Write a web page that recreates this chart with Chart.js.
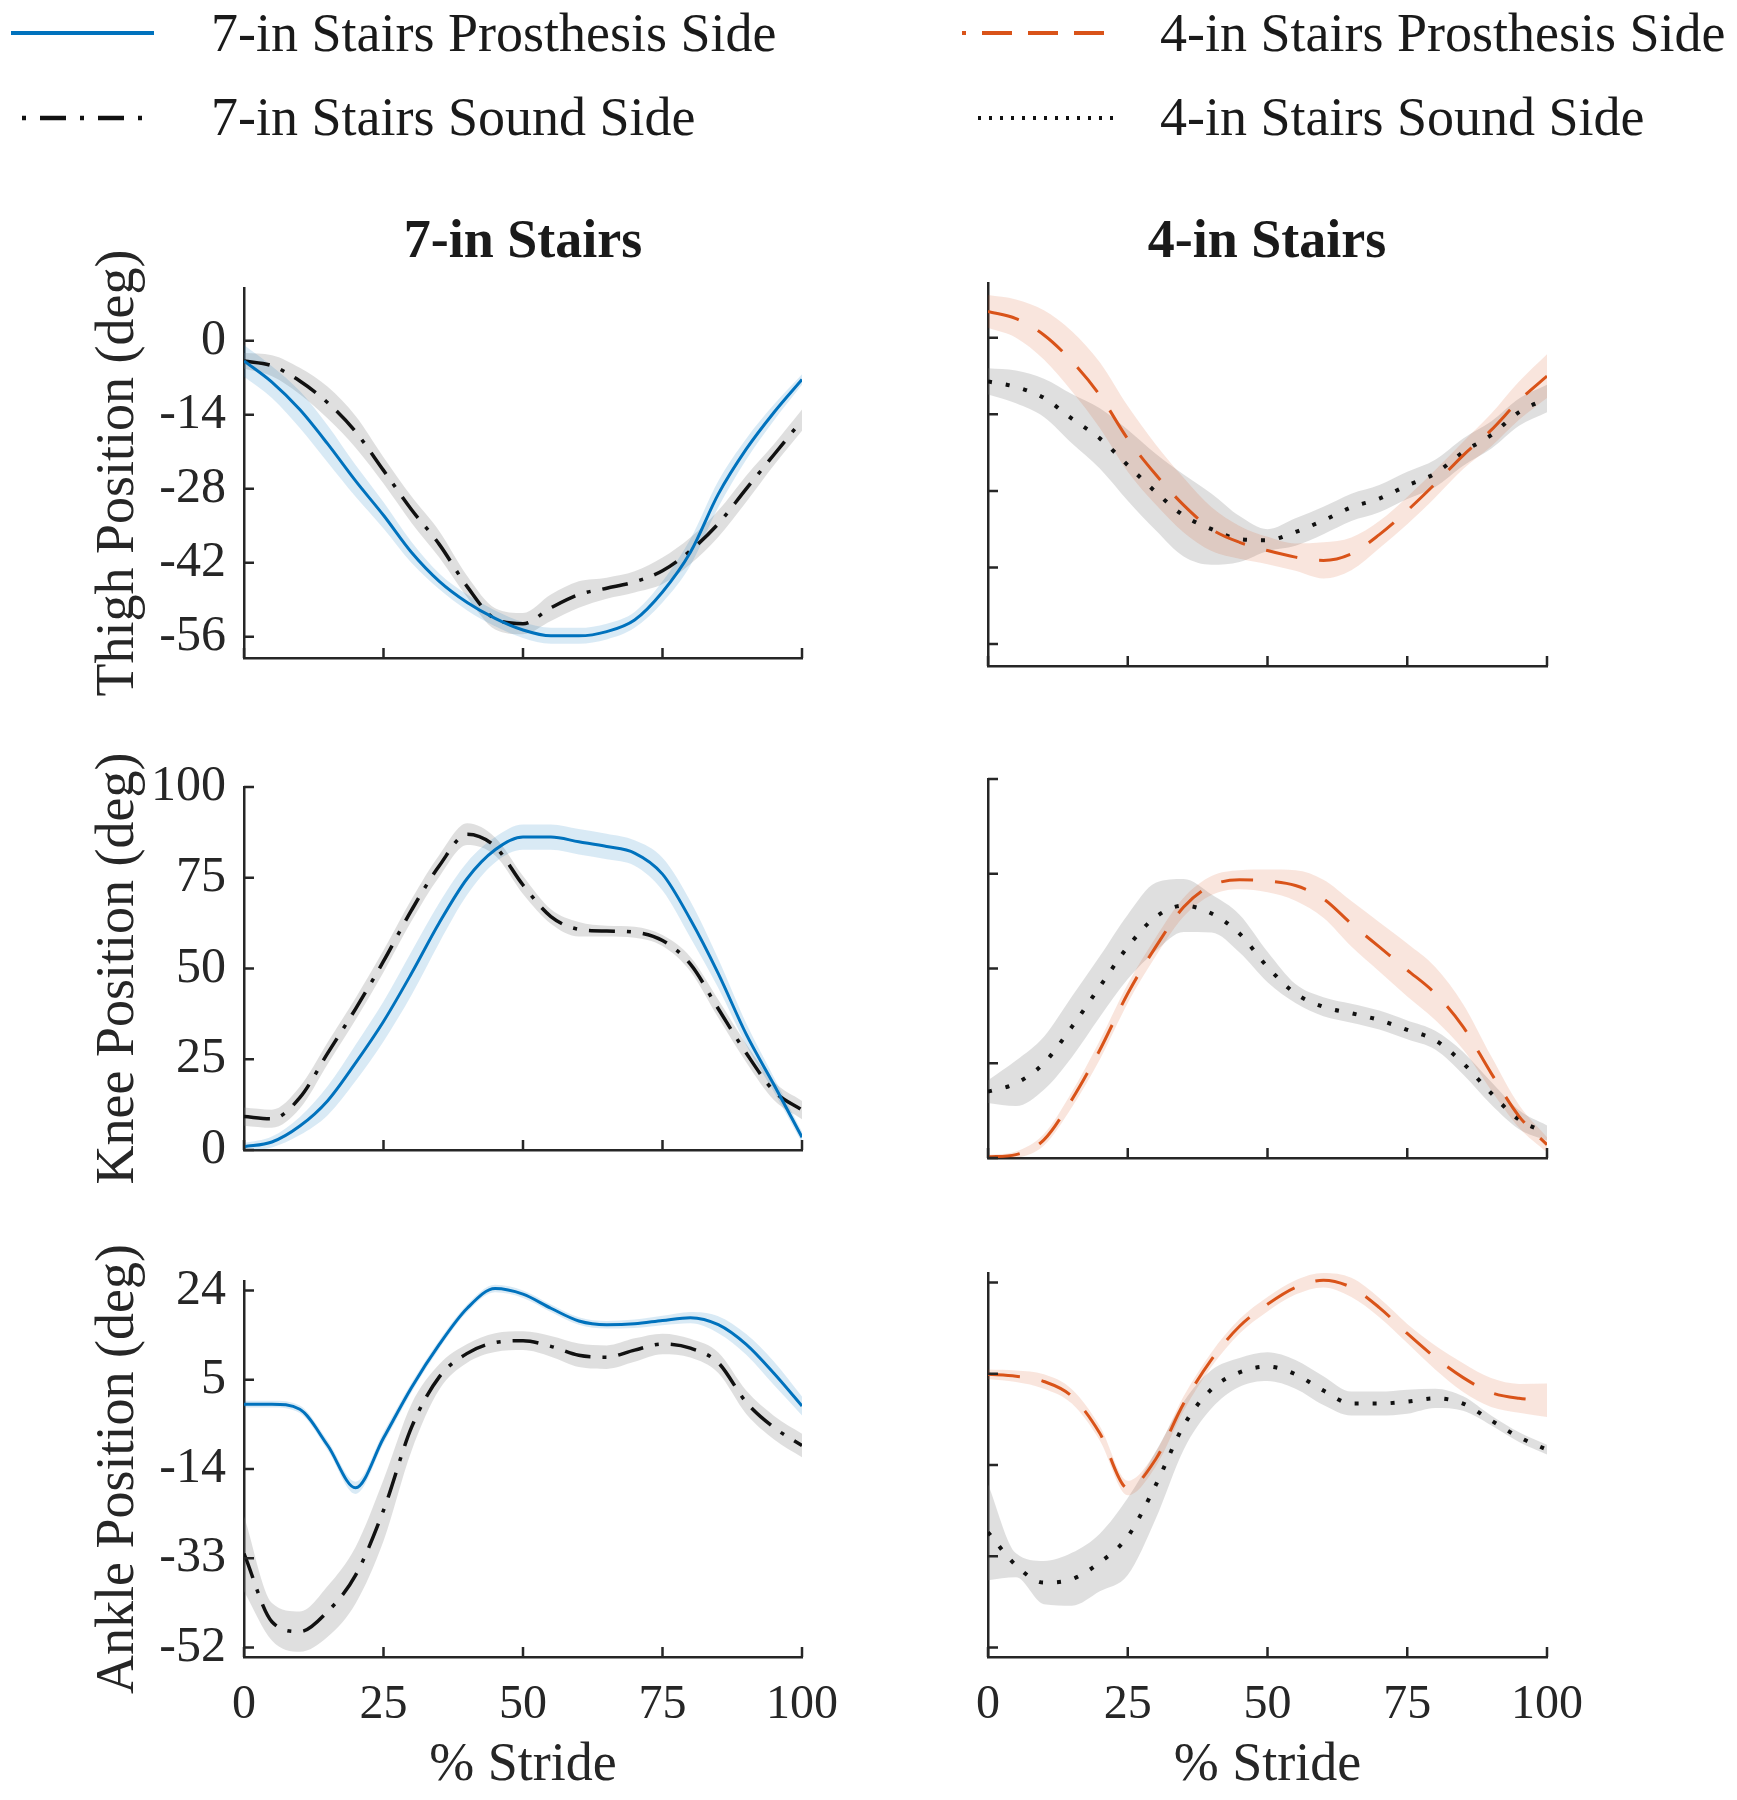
<!DOCTYPE html>
<html>
<head>
<meta charset="utf-8">
<script src="https://cdn.jsdelivr.net/npm/chart.js@4.4.1/dist/chart.umd.min.js"></script>
<style>
  html, body { margin: 0; padding: 0; background: #fff; }
  #page { position: relative; width: 1737px; height: 1800px; overflow: hidden;
          font-family: "Liberation Serif", "Times New Roman", serif; color: #1a1a1a; }
  .abs { position: absolute; }
  .lg { position: absolute; font-size: 54px; line-height: 1; white-space: nowrap; }
  .ttl { position: absolute; font-size: 54px; font-weight: bold; line-height: 1; text-align: center; width: 560px; }
</style>
</head>
<body>
<div id="page">
  <svg class="abs" style="left:0;top:0" width="1737" height="160">
    <line x1="11" y1="33" x2="154" y2="33" stroke="#0072BD" stroke-width="4"/>
    <line x1="22" y1="118" x2="156" y2="118" stroke="#111" stroke-width="4.5" stroke-dasharray="4 14 26 14"/>
    <line x1="962" y1="33" x2="1110" y2="33" stroke="#D95319" stroke-width="4" stroke-dasharray="30 16" stroke-dashoffset="26"/>
    <line x1="978" y1="118" x2="1113" y2="118" stroke="#111" stroke-width="4" stroke-dasharray="3 8"/>
  </svg>
  <div class="lg" style="left:211px;top:6px">7-in Stairs Prosthesis Side</div>
  <div class="lg" style="left:211px;top:90px">7-in Stairs Sound Side</div>
  <div class="lg" style="left:1160px;top:6px">4-in Stairs Prosthesis Side</div>
  <div class="lg" style="left:1160px;top:90px">4-in Stairs Sound Side</div>

  <div class="ttl" style="left:243px;top:212px">7-in Stairs</div>
  <div class="ttl" style="left:987px;top:212px">4-in Stairs</div>

  <canvas id="c11" class="abs"></canvas>
  <canvas id="c12" class="abs"></canvas>
  <canvas id="c21" class="abs"></canvas>
  <canvas id="c22" class="abs"></canvas>
  <canvas id="c31" class="abs"></canvas>
  <canvas id="c32" class="abs"></canvas>
</div>

<script>
// % stride sample points (every 5 %)
const STRIDE = [0, 5, 10, 15, 20, 25, 30, 35, 40, 45, 50, 55, 60, 65, 70, 75, 80, 85, 90, 95, 100];
const X_TICKS = [0, 25, 50, 75, 100];

const THIGH_TICKS = [0, -14, -28, -42, -56];
const KNEE_TICKS = [0, 25, 50, 75, 100];
const ANKLE_TICKS = [24, 5, -14, -33, -52];
const THIGH_LIM = [-60, 10];
const KNEE_LIM = [0, 100];
const ANKLE_LIM = [-54, 26];

// thigh (deg)
const thigh7Pro   = [-3.8, -7.8, -13, -19.5, -26.5, -33, -40, -45.5, -49.5, -52.5, -54.7, -55.8, -55.8, -55, -52.8, -47.5, -40, -29, -20.5, -13.5, -7.3];
const thigh7ProSd = [3, 3, 3.5, 3.5, 3, 2.5, 2, 1.5, 1.5, 1.5, 1.5, 1.5, 1.5, 1.5, 1.5, 2, 2.5, 2.5, 2, 1.5, 1];
const thigh7Snd   = [-3.8, -4.7, -7.6, -11.7, -17.2, -24.5, -31.9, -38.5, -46.5, -52.6, -53.5, -50.5, -48, -46.8, -45.6, -43.5, -39.7, -34.6, -28, -21.5, -15];
const thigh7SndSd = [1.5, 2, 2.5, 3, 3, 2.5, 2.5, 2.5, 2, 2, 2, 2.5, 2.5, 2, 2, 2.5, 2.5, 2.5, 2.5, 2, 2];
const thigh4Pro   = [4.8, 3.5, 0.5, -4.3, -10.5, -18.5, -25, -30.6, -35, -37.4, -38.9, -40.1, -40.7, -39.5, -36, -31.6, -26.7, -21.5, -16.9, -11.5, -7];
const thigh4ProSd = [3, 3.5, 4.5, 5.5, 6, 6, 5.5, 5, 4, 3, 2.5, 2.5, 3.3, 3, 2.5, 2.5, 2.5, 2.5, 3, 3.5, 4];
const thigh4Snd   = [-8, -9, -11, -14.8, -18.4, -23.3, -28.2, -32.5, -35, -36.8, -37, -35.5, -33.4, -31, -29.4, -27, -24.8, -20.9, -17.8, -13.6, -11.1];
const thigh4SndSd = [2.4, 3, 3.5, 4.5, 5.5, 6.5, 7, 7.5, 6.5, 4.2, 2, 2.5, 2.5, 2.5, 2.5, 2.5, 2.5, 2.5, 2.5, 2.5, 2.5];

// knee (deg)
const knee7Pro   = [0.9, 2.2, 6.6, 13.6, 24, 35.4, 48.6, 62.6, 74.8, 82.7, 86.2, 86.2, 84.9, 83.6, 81.8, 76, 63.5, 48.6, 31.9, 17.9, 3.5];
const knee7ProSd = [1, 1.5, 2.5, 4, 5, 5.5, 6, 5.5, 4.5, 3.5, 3.5, 3.5, 3.5, 3.5, 3.5, 4.5, 5, 4, 3, 2, 1.5];
const knee7Snd   = [9.2, 8.6, 14.4, 26.7, 38.9, 52, 66, 78.3, 87, 83.6, 73, 64.3, 60.8, 60.3, 60, 57.7, 51.2, 38.9, 26.7, 16.2, 11];
const knee7SndSd = [2.5, 2.5, 3, 3, 3, 3, 3, 3, 3, 2.5, 2.5, 2, 2, 1.5, 1.5, 1.5, 2, 2.5, 2.5, 2.5, 2.5];
const knee4Pro   = [0.3, 0.9, 4.8, 15.4, 28.5, 43.4, 55.7, 66.2, 71.9, 73.4, 73.1, 71.9, 68.4, 61.8, 55.7, 49.6, 43.4, 34.6, 22.4, 11, 3.5];
const knee4ProSd = [0.5, 0.8, 1.5, 2, 2.5, 2.5, 2.5, 2.5, 2.5, 2.5, 3, 4, 5, 6, 6.5, 7, 7, 6, 4.5, 3, 2];
const knee4Snd   = [17.5, 19.7, 25, 34.6, 45.2, 55.7, 63.6, 66.6, 64.5, 59.2, 50.4, 43.4, 39.9, 38.2, 36.4, 33.8, 31.1, 25, 17.1, 10.1, 6.6];
const knee4SndSd = [3, 6, 7, 8, 8, 8.5, 9, 7, 5, 5, 4, 2.5, 2.5, 2.5, 2.5, 2.5, 2.5, 3, 3, 2.5, 2];

// ankle (deg)
const ankle7Pro   = [-0.2, -0.2, -1.3, -9, -18, -7.4, 3.3, 12.5, 20.2, 24.4, 23.2, 20.2, 17.5, 16.7, 16.9, 17.6, 18.2, 16.7, 12.5, 6.3, -0.6];
const ankle7ProSd = [0.7, 0.7, 0.8, 1, 1.3, 1.2, 1, 0.9, 0.8, 0.8, 0.8, 0.8, 0.8, 0.8, 0.9, 1, 1.2, 1.8, 2.2, 2.5, 2];
const ankle7Snd   = [-32, -46.5, -48.6, -44.3, -36.6, -22.8, -5.2, 5.6, 10.6, 12.9, 13.3, 12.1, 10.2, 9.8, 11.3, 12.6, 11.7, 8.6, 0.2, -5.2, -9];
const ankle7SndSd = [8, 4, 4.3, 5.4, 6, 6.5, 5, 2.7, 2, 2, 2, 2.2, 2.5, 2.5, 2.5, 2.2, 2, 2.2, 2.5, 2.5, 2.5];
const ankle4Pro   = [4.9, 4.5, 3.4, 0.3, -7.4, -18.8, -12.8, -1.2, 8, 14.9, 19.5, 23, 24.5, 23, 18.8, 13.4, 8.4, 4.2, 1.1, -0.1, -0.5];
const ankle4ProSd = [1, 1.2, 1.5, 1.5, 1.5, 1.5, 1.5, 1.5, 1.5, 1.5, 1.5, 1.5, 1.5, 2, 2, 2, 2.5, 3, 3, 3, 3.5];
const ankle4Snd   = [-28, -34.9, -38.5, -37.8, -34.3, -28.9, -18.2, -5.8, 1.8, 5.3, 6.5, 4.9, 1.5, -1.2, -1.2, -0.8, -0.1, -1.2, -4.7, -8.2, -10.8];
const ankle4SndSd = [10, 2.5, 4.5, 5.5, 6, 8, 7, 5, 4, 3, 3, 3, 3, 2.5, 2.5, 2.5, 2, 1.5, 1, 1, 1];

const FONT = 'Liberation Serif';
const INK = '#262626';
const BLUE = '#0072BD', ORANGE = '#D95319';
const BLUE_BAND = 'rgba(0,114,189,0.15)', ORANGE_BAND = 'rgba(217,83,25,0.15)', GREY_BAND = 'rgba(128,128,128,0.25)';

const pts = (arr) => STRIDE.map((x, i) => ({ x, y: arr[i] }));
const edge = (mean, sd, s) => STRIDE.map((x, i) => ({ x, y: mean[i] + s * sd[i] }));

const line = (mean, color, dash, width) => ({
  data: pts(mean), borderColor: color, borderDash: dash, borderWidth: width,
  pointRadius: 0, fill: false, cubicInterpolationMode: 'monotone', borderCapStyle: 'butt',
});
const bandPair = (mean, sd, color) => [
  { data: edge(mean, sd, 1), borderWidth: 0, borderColor: 'transparent', pointRadius: 0, fill: false, cubicInterpolationMode: 'monotone' },
  { data: edge(mean, sd, -1), borderWidth: 0, borderColor: 'transparent', pointRadius: 0, fill: '-1', backgroundColor: color, cubicInterpolationMode: 'monotone' },
];

// MATLAB style ticks pointing into the axes
const inwardTicks = {
  id: 'inwardTicks',
  afterDraw(chart) {
    const { ctx, chartArea: a, scales: { x, y } } = chart;
    ctx.save();
    ctx.strokeStyle = INK; ctx.lineWidth = 2.5;
    ctx.beginPath();
    x.ticks.forEach((t) => { const px = x.getPixelForValue(t.value); ctx.moveTo(px, a.bottom); ctx.lineTo(px, a.bottom - 10); });
    y.ticks.forEach((t) => { const py = y.getPixelForValue(t.value); ctx.moveTo(a.left, py); ctx.lineTo(a.left + 10, py); });
    ctx.stroke();
    ctx.restore();
  },
};

const COLS = [
  { left: 0, width: 870, yW: 244, padR: 68 },
  { left: 870, width: 867, yW: 118, padR: 190 },
];
// plot areas: 283-666, 779-1158, 1273-1657
const ROWS = [
  { top: 240, height: 466, padT: 43, xH: 40 },
  { top: 739, height: 459, padT: 40, xH: 40 },
  { top: 1233, height: 567, padT: 40, xH: 143 },
];

function panel(id, row, col, o) {
  const r = ROWS[row], c = COLS[col];
  const cv = document.getElementById(id);
  cv.width = c.width; cv.height = r.height;
  cv.style.left = c.left + 'px'; cv.style.top = r.top + 'px';
  const showY = col === 0, showX = row === 2;

  new Chart(cv, {
    type: 'line',
    data: {
      datasets: [
        line(o.pro, o.proColor, o.proDash, 3),
        line(o.snd, '#111', o.sndDash, o.sndDash.length === 2 ? 4 : 3.5),
        ...bandPair(o.pro, o.proSd, o.proBand),
        ...bandPair(o.snd, o.sndSd, GREY_BAND),
      ],
    },
    options: {
      responsive: false, animation: false, devicePixelRatio: 1,
      layout: { padding: { top: r.padT, right: c.padR, left: 0, bottom: 0 } },
      plugins: { legend: { display: false }, tooltip: { enabled: false } },
      scales: {
        x: {
          type: 'linear', min: 0, max: 100,
          afterBuildTicks: (s) => { s.ticks = X_TICKS.map((v) => ({ value: v })); },
          afterFit: (s) => { s.height = r.xH; },
          grid: { color: 'transparent', drawTicks: false },
          border: { color: INK, width: 2.5 },
          ticks: { display: showX, padding: 20, autoSkip: false, maxRotation: 0, color: INK, font: { family: FONT, size: 48 } },
          title: { display: showX, text: '% Stride', color: INK, font: { family: FONT, size: 54 }, padding: { top: 0, bottom: 2 } },
        },
        y: {
          type: 'linear', min: o.lim[0], max: o.lim[1],
          afterBuildTicks: (s) => { s.ticks = o.ticks.map((v) => ({ value: v })); },
          afterFit: (s) => { s.width = c.yW; },
          grid: { color: 'transparent', drawTicks: false },
          border: { color: INK, width: 2.5 },
          ticks: { display: showY, padding: 18, autoSkip: false, color: INK, font: { family: FONT, size: 50 } },
          title: { display: showY, text: o.label, color: INK, font: { family: FONT, size: 54 }, padding: { top: 86, bottom: 0 } },
        },
      },
    },
    plugins: [inwardTicks],
  });
}

const DASHDOT = [26, 12, 4, 12];
const DASHED = [32, 22];
const DOTTED = [4, 14];

panel('c11', 0, 0, { pro: thigh7Pro, proSd: thigh7ProSd, snd: thigh7Snd, sndSd: thigh7SndSd, proColor: BLUE, proDash: [], proBand: BLUE_BAND, sndDash: DASHDOT, lim: THIGH_LIM, ticks: THIGH_TICKS, label: 'Thigh Position (deg)' });
panel('c12', 0, 1, { pro: thigh4Pro, proSd: thigh4ProSd, snd: thigh4Snd, sndSd: thigh4SndSd, proColor: ORANGE, proDash: DASHED, proBand: ORANGE_BAND, sndDash: DOTTED, lim: THIGH_LIM, ticks: THIGH_TICKS, label: '' });
panel('c21', 1, 0, { pro: knee7Pro, proSd: knee7ProSd, snd: knee7Snd, sndSd: knee7SndSd, proColor: BLUE, proDash: [], proBand: BLUE_BAND, sndDash: DASHDOT, lim: KNEE_LIM, ticks: KNEE_TICKS, label: 'Knee Position (deg)' });
panel('c22', 1, 1, { pro: knee4Pro, proSd: knee4ProSd, snd: knee4Snd, sndSd: knee4SndSd, proColor: ORANGE, proDash: DASHED, proBand: ORANGE_BAND, sndDash: DOTTED, lim: KNEE_LIM, ticks: KNEE_TICKS, label: '' });
panel('c31', 2, 0, { pro: ankle7Pro, proSd: ankle7ProSd, snd: ankle7Snd, sndSd: ankle7SndSd, proColor: BLUE, proDash: [], proBand: BLUE_BAND, sndDash: DASHDOT, lim: ANKLE_LIM, ticks: ANKLE_TICKS, label: 'Ankle Position (deg)' });
panel('c32', 2, 1, { pro: ankle4Pro, proSd: ankle4ProSd, snd: ankle4Snd, sndSd: ankle4SndSd, proColor: ORANGE, proDash: DASHED, proBand: ORANGE_BAND, sndDash: DOTTED, lim: ANKLE_LIM, ticks: ANKLE_TICKS, label: '' });
</script>
</body>
</html>
